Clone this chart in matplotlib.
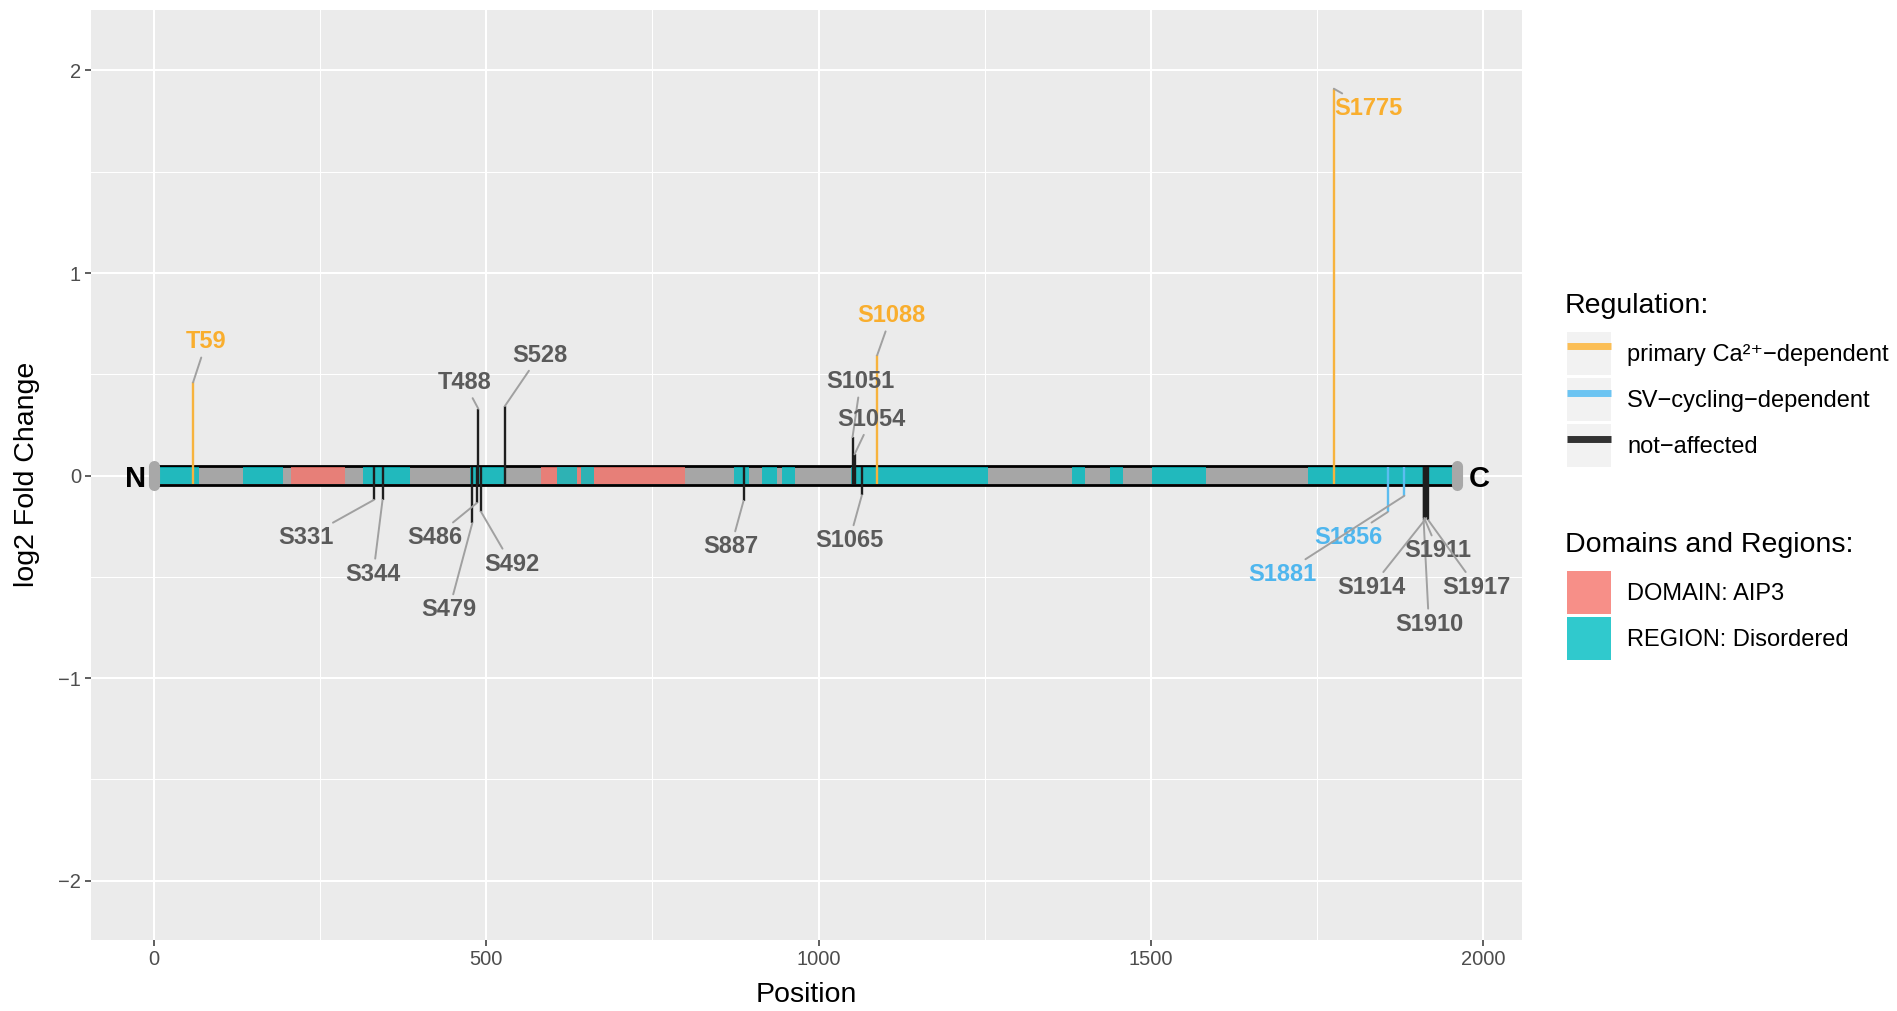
import matplotlib
matplotlib.use("Agg")
import matplotlib.pyplot as plt
import numpy as np
from matplotlib.lines import Line2D
from matplotlib.patches import Patch
from matplotlib.legend_handler import HandlerTuple, HandlerLine2D

plt.rcParams['font.family'] = ['Liberation Sans', 'DejaVu Sans']
plt.rcParams['axes.unicode_minus'] = True

# ---------------- data ----------------
protein_length = 1960

domain_start = [206, 583]
domain_end = [288, 799]

region_start = [1, 134, 315, 475, 607, 643, 873, 915, 945, 1049, 1381, 1439, 1502, 1736]
region_end = [68, 195, 386, 530, 636, 662, 895, 937, 965, 1255, 1401, 1458, 1583, 1960]

site_labels = ['T59', 'S331', 'S344', 'S479', 'S486', 'T488', 'S492', 'S528', 'S887',
               'S1051', 'S1054', 'S1065', 'S1088', 'S1775', 'S1856', 'S1881',
               'S1910', 'S1911', 'S1914', 'S1917']
site_positions = [59, 331, 344, 479, 486, 488, 492, 528, 887,
                  1051, 1054, 1065, 1088, 1775, 1856, 1881,
                  1910, 1911, 1914, 1917]
site_log2fc = [0.46, -0.12, -0.12, -0.235, -0.135, 0.33, -0.178, 0.343, -0.125,
               0.19, 0.105, -0.097, 0.594, 1.91, -0.18, -0.10,
               -0.22, -0.21, -0.21, -0.22]
site_class = ['primary', 'not', 'not', 'not', 'not', 'not', 'not', 'not', 'not',
              'not', 'not', 'not', 'primary', 'primary', 'sv', 'sv',
              'not', 'not', 'not', 'not']

regulation_labels = ['primary Ca²⁺−dependent', 'SV−cycling−dependent', 'not−affected']
feature_labels = ['DOMAIN: AIP3', 'REGION: Disordered']

# ---------------- layout (label placement, repel-like) ----------------
label_xy = {
    'T59': (79, 0.672), 'S331': (229, -0.294), 'S344': (330, -0.475),
    'S479': (444, -0.651), 'S486': (422, -0.294), 'T488': (467, 0.471),
    'S492': (538, -0.425), 'S528': (580, 0.606), 'S887': (868, -0.340),
    'S1051': (1063, 0.475), 'S1054': (1079, 0.290), 'S1065': (1046, -0.310),
    'S1088': (1109, 0.801), 'S1775': (1827, 1.825), 'S1856': (1797, -0.294),
    'S1881': (1697, -0.475), 'S1910': (1918, -0.722), 'S1911': (1932, -0.360),
    'S1914': (1831, -0.540), 'S1917': (1990, -0.540),
}

line_color = {'primary': '#F7B33D', 'sv': '#5CBDF0', 'not': '#1E1E1E'}
text_color = {'primary': '#F9AE2E', 'sv': '#4FB6EE', 'not': '#5A5A5A'}
legend_line_color = ['#FBBE55', '#6CC4F2', '#333333']
red = '#F8766D'
teal = '#00BFC4'

W, H = 1897, 1011
fig = plt.figure(figsize=(W / 100, H / 100), dpi=100)
ax = fig.add_axes([90.7 / W, 1 - 940 / H, (1522 - 90.7) / W, (940 - 9.7) / H])
ax.set_facecolor('#EBEBEB')
for s in ax.spines.values():
    s.set_visible(False)

ax.set_xlim(-95, 2058)
ax.set_ylim(-2.293, 2.30)

ax.set_xticks([0, 500, 1000, 1500, 2000])
ax.set_xticks([250, 750, 1250, 1750], minor=True)
ax.set_yticks([-2, -1, 0, 1, 2])
ax.set_yticks([-1.5, -0.5, 0.5, 1.5], minor=True)
ax.grid(which='major', color='white', lw=1.5)
ax.grid(which='minor', color='white', lw=0.75)
ax.set_axisbelow(True)
ax.tick_params(which='major', length=4.5, width=1.1, color='#333333',
               labelcolor='#4D4D4D', labelsize=14.5, pad=2.5)
ax.tick_params(which='minor', length=0)

ax.set_xlabel('Position', fontsize=20.5, va='center')
ax.xaxis.set_label_coords(0.5, (940 - 994.5) / 930.3)
ax.set_ylabel('log2 Fold Change', fontsize=20.5, va='center')
ax.yaxis.set_label_coords((26.6 - 90.7) / 1431.3, 0.5)

# protein backbone
ax.bar([0], [0.092], width=[protein_length], bottom=-0.046, align='edge',
       color='#A6A6A6', edgecolor='black', linewidth=2.0, zorder=2)
ax.bar(domain_start, 0.08, width=np.subtract(domain_end, domain_start), bottom=-0.04,
       align='edge', color=red, alpha=0.8, linewidth=0, zorder=3)
ax.bar(region_start, 0.08, width=np.subtract(region_end, region_start), bottom=-0.04,
       align='edge', color=teal, alpha=0.8, linewidth=0, zorder=3)

# stems
pos = np.array(site_positions)
val = np.array(site_log2fc)
cls = np.array(site_class)
for c in ['not', 'sv', 'primary']:
    m = cls == c
    ax.vlines(pos[m], -0.04 * np.sign(val[m]), val[m], colors=line_color[c],
              lw=1.7, zorder=4)

# termini caps
for xc in [0, protein_length]:
    ax.plot([xc, xc], [-0.045, 0.045], color='#A8A8A8', lw=8,
            solid_capstyle='round', zorder=5)
ax.text(-28, 0, 'N', fontsize=21, fontweight='bold', ha='center',
        va='center_baseline', zorder=6)
ax.text(protein_length + 34, 0, 'C', fontsize=21, fontweight='bold', ha='center',
        va='center_baseline', zorder=6)

# labels with leader lines
for lab, x, v, c in zip(site_labels, site_positions, site_log2fc, site_class):
    tx, ty = label_xy[lab]
    ax.annotate(lab, xy=(x, v), xytext=(tx, ty), textcoords='data',
                ha='center', va='center_baseline', fontsize=17, fontweight='bold',
                color=text_color[c], zorder=7,
                arrowprops=dict(arrowstyle='-', color='#A0A0A0', lw=1.4,
                                shrinkA=1, shrinkB=0))

# legends
fs_leg = 17
em = fs_leg * 100 / 72
key_h = 43 / em
hh = (key_h - 0.245) / 0.65
common = dict(loc='upper left', bbox_transform=fig.transFigure, frameon=False,
              borderpad=0, borderaxespad=0, handlelength=43.4 / em,
              handleheight=hh, labelspacing=3.2 / em,
              handletextpad=(1627.3 - 1610.7) / em, prop={'size': fs_leg})

reg_handles = [(Patch(facecolor='#F2F2F2', edgecolor='none'),
                Line2D([], [], color=col, lw=5, solid_capstyle='butt'))
               for col in legend_line_color]
leg1 = ax.legend(handles=reg_handles, labels=regulation_labels,
                 bbox_to_anchor=(1567.3 / W, 1 - 332 / H),
                 handler_map={tuple: HandlerTuple(ndivide=1, pad=0),
                              Line2D: HandlerLine2D(marker_pad=0.12)},
                 **common)
ax.add_artist(leg1)

feat_handles = [Patch(facecolor='#F78F88', edgecolor='none'),
                Patch(facecolor='#30C9CD', edgecolor='none')]
leg2 = ax.legend(handles=feat_handles, labels=feature_labels,
                 bbox_to_anchor=(1567.3 / W, 1 - 571 / H), **common)

fig.text(1565 / W, 1 - 313.3 / H, 'Regulation:', fontsize=20.5, ha='left', va='baseline')
fig.text(1565 / W, 1 - 551.7 / H, 'Domains and Regions:', fontsize=20.5, ha='left',
         va='baseline')

fig.savefig('out.png', dpi=100, facecolor='white')
